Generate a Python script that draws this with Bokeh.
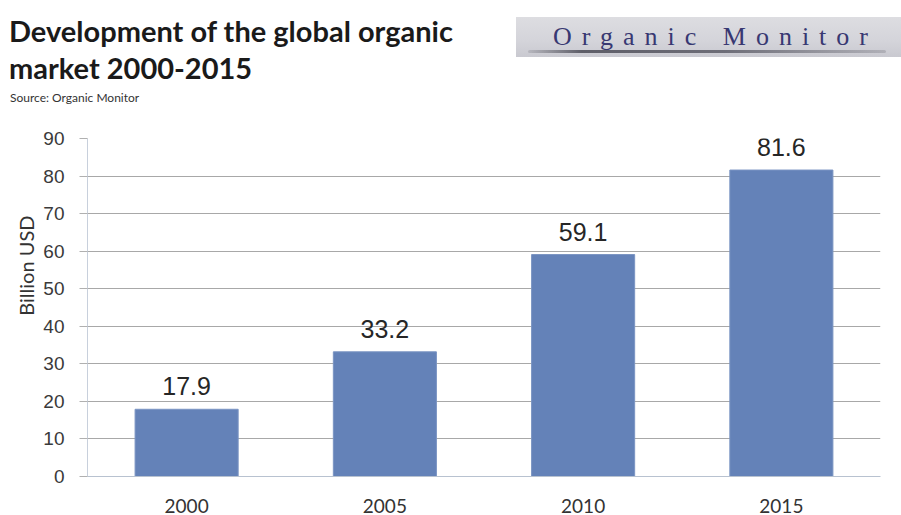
from bokeh.plotting import figure
from bokeh.models import ColumnDataSource, FixedTicker, Div, Title
from bokeh.layouts import column
from bokeh.embed import file_html
from bokeh.resources import INLINE
from bokeh.core.properties import value

# ---- data -------------------------------------------------------------
years = ["2000", "2005", "2010", "2015"]
market_bn_usd = [17.9, 33.2, 59.1, 81.6]
y_ticks = [0, 10, 20, 30, 40, 50, 60, 70, 80, 90]
title_line1 = "Development of the global organic"
title_line2 = "market 2000-2015"
source_text = "Source: Organic Monitor"
logo_text = "Organic Monitor"
y_label = "Billion USD"

W = 901
HEAD_H = 120
MAIN_H = 515 - HEAD_H

# ---- header (title, source, logo) as HTML --------------------------------
header_html = (
    f'<div style="position:relative;width:{W}px;height:{HEAD_H}px;background:#ffffff;overflow:hidden;">'
    f'<div style="position:absolute;left:9px;top:12px;font-family:Lato;font-weight:bold;'
    f'font-size:29px;line-height:37px;color:#1a1a1a;white-space:nowrap;">'
    f'{title_line1}<br>{title_line2}</div>'
    f'<div style="position:absolute;left:10px;top:91px;font-family:Lato;font-size:12px;'
    f'line-height:14px;color:#333333;white-space:nowrap;">{source_text}</div>'
    f'<div style="position:absolute;left:516px;top:17px;width:385px;height:40px;'
    f'background:linear-gradient(to bottom,#dddde1 0%,#d4d4da 60%,#c9c9d0 100%);"></div>'
    f'<div style="position:absolute;left:528px;top:50px;width:358px;height:3px;border-radius:2px;'
    f'background:linear-gradient(to right,rgba(95,95,105,0.2) 0%,#5e5e68 15%,#6e6e78 55%,rgba(110,110,120,0.3) 100%);"></div>'
    f'<div style="position:absolute;left:553px;top:22px;font-family:\'Liberation Serif\';'
    f'font-size:26px;line-height:30px;letter-spacing:10px;color:#383872;'
    f'white-space:nowrap;">{logo_text}</div>'
    f'</div>'
)
head = Div(text=header_html, width=W, height=HEAD_H, margin=0,
           styles={"overflow": "hidden"})

# ---- main chart ---------------------------------------------------------
src = ColumnDataSource(dict(
    year=years,
    val=market_bn_usd,
    txt=[f"{v:.1f}" for v in market_bn_usd],
))

p = figure(width=W, height=MAIN_H, x_range=years, y_range=(0, 90),
           output_backend="svg", toolbar_location=None,
           min_border_left=87, min_border_right=21,
           min_border_top=18, min_border_bottom=39, margin=0)
p.outline_line_color = None
p.background_fill_color = "white"
p.border_fill_color = "white"

p.vbar(x="year", top="val", width=0.52, source=src,
       fill_color="#6482b8", line_color="#7b95c3", line_width=1)

p.text(x="year", y="val", text="txt", source=src,
       text_align="center", text_baseline="bottom", y_offset=-14,
       text_font=value("Liberation Sans"), text_font_size="25px",
       text_color="#262626")

p.yaxis.ticker = FixedTicker(ticks=y_ticks)
p.yaxis.major_label_text_font = "Liberation Sans"
p.yaxis.major_label_text_font_size = "19px"
p.yaxis.major_label_text_color = "#3a3a3a"
p.yaxis.major_label_standoff = 15
p.yaxis.axis_line_color = "#c8d0dc"
p.yaxis.major_tick_line_color = "#b0b0b0"
p.yaxis.major_tick_out = 8
p.yaxis.major_tick_in = 0
p.yaxis.minor_tick_line_color = None

# y-axis title, placed higher than centre like the reference
p.add_layout(Title(text=y_label, align="right", offset=77,
                   text_font="Lato", text_font_size="20px",
                   text_font_style="normal", text_color="#333333",
                   standoff=6), "left")

p.xaxis.axis_line_color = "#b8c2d0"
p.xaxis.major_tick_line_color = None
p.xaxis.minor_tick_line_color = None
p.xaxis.major_label_text_font = "Lato"
p.xaxis.major_label_text_font_size = "19px"
p.xaxis.major_label_text_color = "#333333"
p.xaxis.major_label_standoff = 16

p.xgrid.grid_line_color = None
p.ygrid.grid_line_color = "#a8a8a8"
p.ygrid.grid_line_width = 1

layout = column(head, p, spacing=0)

with open("out.html", "w") as f:
    f.write(file_html(layout, INLINE))
